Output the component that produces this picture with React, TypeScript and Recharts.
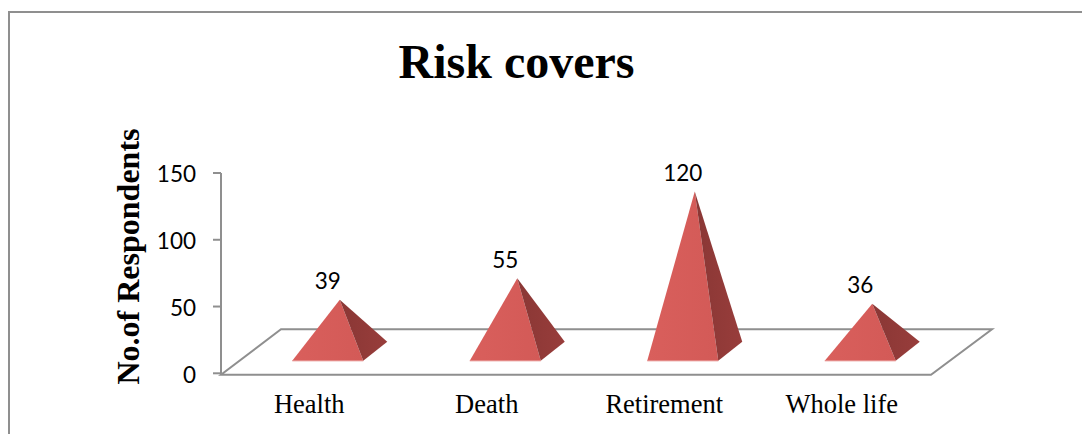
import React from "react";
import { BarChart, Bar, XAxis, YAxis, LabelList, ReferenceArea } from "recharts";

const categories = ["Health", "Death", "Retirement", "Whole life"];
const respondents = [39, 55, 120, 36];
const yTicks = [0, 50, 100, 150];
const floorDepthValue = 33;

const rows = categories.map((name, i) => ({ name, value: respondents[i] }));

const SERIF = "'Liberation Serif', serif";
const SANS = "Lato, sans-serif";
const GREY = "#8f8f8f";

// Oblique projection offsets of the 3D floor and of the pyramids standing on it.
const SHIFT_X = 18;
const FRONT_Y = 12.5;
const APEX_Y = 21.5;
const DEPTH_X = 24;
const DEPTH_Y = 19;

function Pyramid(props: any) {
  const { x, y, width, height } = props;
  const base = y + height - FRONT_Y;
  const left = x + SHIFT_X;
  const right = left + width;
  const apexX = left + width / 2 + 12;
  const apexY = y - APEX_Y;
  return (
    <g>
      <polygon points={`${left},${base} ${right},${base} ${apexX},${apexY}`} fill="url(#faceFill)" />
      <polygon
        points={`${right},${base} ${right + DEPTH_X},${base - DEPTH_Y} ${apexX},${apexY}`}
        fill="url(#sideFill)"
      />
      <line x1={left} x2={right} y1={base} y2={base} stroke="#e58a88" strokeWidth={1} />
    </g>
  );
}

function Floor(props: any) {
  const { x, y, width, height } = props;
  const front = y + height + 1.5;
  return (
    <g>
      <polygon
        points={`${x},${front} ${x + width},${front} ${x + width + 61},${y} ${x + 60},${y}`}
        fill="#ffffff"
        stroke={GREY}
        strokeWidth={2}
      />
      <line x1={x} x2={x} y1={y + height} y2={front} stroke={GREY} strokeWidth={2} />
    </g>
  );
}

function ValueLabel(props: any) {
  const { x, y, width, value } = props;
  return (
    <text
      x={x + width / 2 + SHIFT_X}
      y={y - APEX_Y - 10.5}
      textAnchor="middle"
      fontFamily={SANS}
      fontSize={22.5}
      fill="#000"
    >
      {value}
    </text>
  );
}

export default function App() {
  return (
    <div style={{ position: "fixed", left: 0, top: 0, width: 1082, height: 434, background: "#fff", overflow: "hidden" }}>
      <div
        style={{
          position: "absolute",
          left: 8,
          top: 11,
          width: 1074,
          height: 423,
          borderTop: `2px solid ${GREY}`,
          borderLeft: `2px solid ${GREY}`,
        }}
      />
      <div
        style={{
          position: "absolute",
          left: 0,
          width: 1033,
          top: 34,
          textAlign: "center",
          fontFamily: SERIF,
          fontWeight: "bold",
          fontSize: 48,
          lineHeight: "56px",
          color: "#000",
        }}
      >
        Risk covers
      </div>
      <div style={{ position: "absolute", left: 0, top: 0 }}>
        <BarChart
          width={1082}
          height={434}
          data={rows}
          margin={{ left: 161, right: 151, top: 173, bottom: 20.7 }}
          barCategoryGap="30%"
        >
          <defs>
            <linearGradient id="faceFill" x1="0" x2="1" y1="0" y2="0">
              <stop offset="0%" stopColor="#d95f5c" />
              <stop offset="100%" stopColor="#d35a57" />
            </linearGradient>
            <linearGradient id="sideFill" x1="0" x2="1" y1="0" y2="0">
              <stop offset="0%" stopColor="#8a3735" />
              <stop offset="100%" stopColor="#983d3b" />
            </linearGradient>
          </defs>
          <ReferenceArea y1={0} y2={floorDepthValue} shape={Floor} ifOverflow="visible" />
          <XAxis
            dataKey="name"
            height={40}
            axisLine={false}
            tickLine={false}
            interval={0}
            tickMargin={15}
            tick={{ fontFamily: SERIF, fontSize: 26.5, fill: "#000", dx: -0.5 }}
          />
          <YAxis
            width={60}
            domain={[0, 150]}
            ticks={yTicks}
            tickSize={8}
            tickMargin={17}
            axisLine={{ stroke: GREY, strokeWidth: 2 }}
            tickLine={{ stroke: GREY, strokeWidth: 2 }}
            tick={{ fontFamily: SANS, fontSize: 22.5, fill: "#000", dy: 1.5 }}
            label={{
              content: () => (
                <text
                  transform="translate(138.5 256.5) rotate(-90)"
                  textAnchor="middle"
                  fontFamily={SERIF}
                  fontWeight="bold"
                  fontSize={32}
                  fill="#000"
                >
                  No.of Respondents
                </text>
              ),
            }}
          />
          <Bar dataKey="value" shape={Pyramid} isAnimationActive={false}>
            <LabelList dataKey="value" content={ValueLabel} />
          </Bar>
        </BarChart>
      </div>
    </div>
  );
}
